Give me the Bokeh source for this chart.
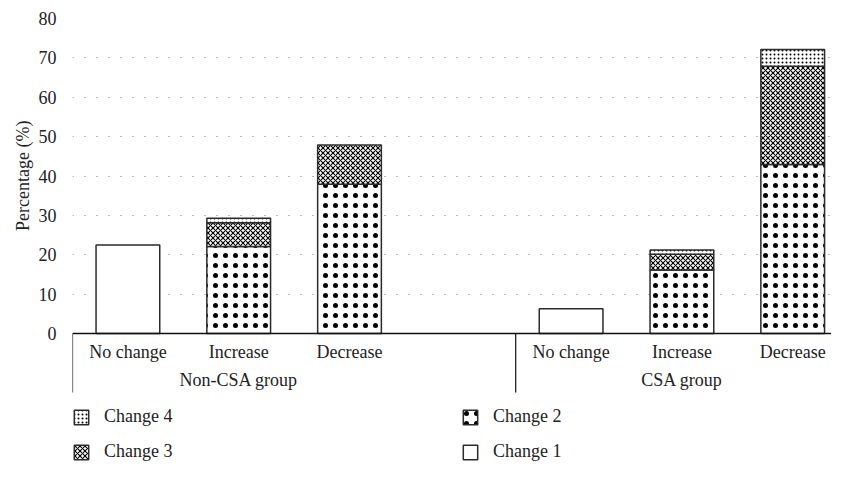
from bokeh.plotting import figure
from bokeh.models import ColumnDataSource, Range1d, FixedTicker, Legend, LegendItem, Title
from bokeh.core.properties import value
from bokeh.embed import file_html
from bokeh.resources import INLINE

# ---- data ----
slots = [0, 1, 2, 4, 5, 6]
categories = ["No change", "Increase", "Decrease", "No change", "Increase", "Decrease"]
groups = ["Non-CSA group", "CSA group"]
group_slots = [[0, 1, 2, 3], [4, 5, 6]]
change1 = [22.5, 0, 0, 6.3, 0, 0]
change2 = [0, 22.1, 37.9, 0, 16.1, 42.9]
change3 = [0, 6.0, 10.0, 0, 4.0, 25.0]
change4 = [0, 1.2, 0, 0, 1.1, 4.2]
yticks = [0, 10, 20, 30, 40, 50, 60, 70, 80]

FONT = "Liberation Serif"
EDGE = "#2b2b2b"
TXT = "#222222"
X_END = 6.35

p = figure(width=831, height=462, output_backend="svg", toolbar_location=None,
           x_range=Range1d(-0.5, X_END), y_range=Range1d(-32.76, 80),
           min_border_left=72, min_border_right=0, min_border_top=18, min_border_bottom=0)
p.outline_line_color = None
p.xaxis.visible = False
p.xgrid.visible = False

yax = p.yaxis[0]
yax.ticker = FixedTicker(ticks=yticks)
yax.axis_line_color = None
yax.major_tick_line_color = None
yax.minor_tick_line_color = None
yax.major_label_standoff = 10
yax.major_label_text_font = FONT
yax.major_label_text_font_size = "18px"
yax.major_label_text_color = TXT

ytitle = Title(text="Percentage (%)", align="right", offset=102, standoff=6,
               text_font=FONT, text_font_style="normal", text_font_size="18px", text_color=TXT)
p.add_layout(ytitle, "left")

p.ygrid.ticker = FixedTicker(ticks=yticks)
p.ygrid.grid_line_color = "#777777"
p.ygrid.grid_line_dash = "1 11"
p.ygrid.grid_line_width = 1

series = [
    ("Change 1", change1, dict(fill_color="white")),
    ("Change 2", change2, dict(fill_color="white", hatch_pattern="dot", hatch_scale=10,
                               hatch_weight=0.4, hatch_color="black")),
    ("Change 3", change3, dict(fill_color="white", hatch_pattern="diagonal_cross", hatch_scale=5,
                               hatch_weight=1.1, hatch_color="black")),
    ("Change 4", change4, dict(fill_color="white", hatch_pattern="dot", hatch_scale=4,
                               hatch_weight=1.6, hatch_color="black")),
]

bottoms = [0.0] * len(slots)
renderers = {}
for name, vals, style in series:
    xs, bs, ts = [], [], []
    for i, v in enumerate(vals):
        if v > 0:
            xs.append(slots[i]); bs.append(bottoms[i]); ts.append(bottoms[i] + v)
        bottoms[i] += v
    src = ColumnDataSource(dict(x=xs, bottom=bs, top=ts))
    r = p.vbar(x="x", bottom="bottom", top="top", width=0.575, source=src,
               line_color=EDGE, line_width=1.5, **style)
    renderers[name] = r

# baseline axis line and group separators
p.segment(x0=[-0.5], y0=[0], x1=[X_END], y1=[0], line_color="#111111", line_width=1.5)
sep_x = [min(g) - 0.5 for g in group_slots]
p.segment(x0=sep_x, y0=[0] * len(sep_x), x1=sep_x, y1=[-15] * len(sep_x),
          line_color="#111111", line_width=1.2)

# category labels
p.text(x=slots, y=[-4.8] * len(slots), text=categories, text_align="center",
       text_baseline="middle", text_font=value(FONT), text_font_size="18px", text_color=TXT)
# group labels
gx = [sum(g[:3]) / 3 for g in group_slots]
p.text(x=gx, y=[-11.7] * len(gx), text=groups, text_align="center",
       text_baseline="middle", text_font=value(FONT), text_font_size="18px", text_color=TXT)

legend = Legend(items=[LegendItem(label=n, renderers=[renderers[n]]) for n in ["Change 4", "Change 3", "Change 2", "Change 1"]],
                location=(0, 0), orientation="vertical", nrows=2,
                glyph_width=18, glyph_height=18, label_height=18, label_width=343,
                label_standoff=14, spacing=14, padding=0, margin=0,
                background_fill_alpha=0, border_line_alpha=0,
                label_text_font=FONT, label_text_font_size="18px", label_text_color=TXT)
p.add_layout(legend, "center")

open("out.html", "w").write(file_html(p, INLINE))
